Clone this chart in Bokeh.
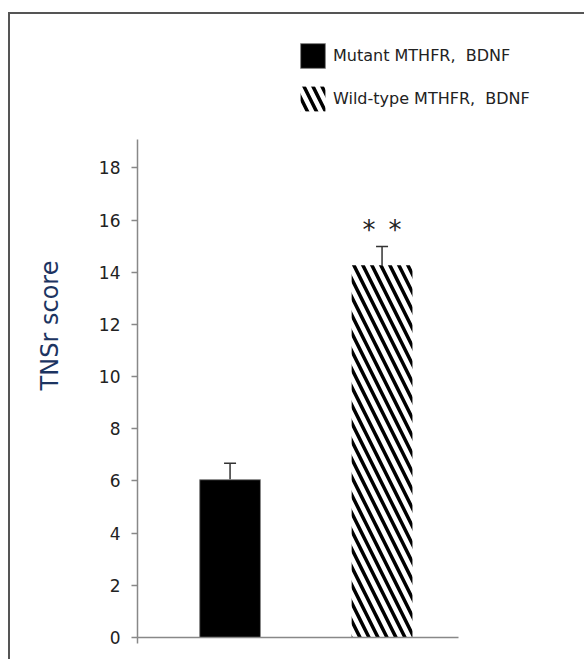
from bokeh.plotting import figure
from bokeh.models import (ColumnDataSource, Range1d, Whisker, TeeHead, Legend, LegendItem,
                          FixedTicker)
from bokeh.core.properties import value
from bokeh.embed import file_html
from bokeh.resources import INLINE

# ---- data ----
groups = ["Mutant MTHFR,  BDNF", "Wild-type MTHFR,  BDNF"]
means = [6.05, 14.27]
errors = [0.63, 0.72]
sig_index = [1]
sig_labels = ["*\u2002*"]
sig_y = [15.64]
y_ticks = [0, 2, 4, 6, 8, 10, 12, 14, 16, 18]
y_axis_max = 19.1
y_view_max = 23.92
ylabel = "TNSr score"

idx = list(range(len(groups)))
x_start, x_axis_end, x_view_end = -0.609, 1.503, 2.332

src = ColumnDataSource(dict(
    x=idx, top=means,
    upper=[m + e for m, e in zip(means, errors)],
    lower=[m - e for m, e in zip(means, errors)],
))

p = figure(width=584, height=659, output_backend="svg", toolbar_location=None,
           x_range=Range1d(x_start, x_view_end), y_range=Range1d(0, y_view_max),
           min_border_left=137, min_border_right=0, min_border_top=13,
           min_border_bottom=22)
# picture frame: thin grey rule along the top and left edges
p.styles = {"box-shadow": "inset 8px 12px 0px 0px #ffffff, inset 10px 14px 0px 0px #555555"}
p.outline_line_color = None
p.xgrid.visible = False
p.ygrid.visible = False
p.background_fill_alpha = 0
p.border_fill_alpha = 0

# bars
r_mut = p.vbar(x=[idx[0]], top=[means[0]], width=0.40, fill_color="black",
               line_color="#888888", line_width=1)
r_wt = p.vbar(x=[idx[1]], top=[means[1]], width=0.40, fill_color="white",
              line_color=None, hatch_pattern="\\", hatch_color="black",
              hatch_scale=18, hatch_weight=3.5)

# error bars
wh = Whisker(source=src, base="x", upper="upper", lower="lower",
             line_color="#333333", line_width=1.5,
             upper_head=TeeHead(size=12, line_color="#333333", line_width=1.5),
             lower_head=TeeHead(size=12, line_color="#333333", line_width=1.5))
p.add_layout(wh)

# significance marks
p.text(x=sig_index, y=sig_y, text=sig_labels, text_align="center",
       text_baseline="alphabetic", text_font=value("DejaVu Sans"),
       text_font_size="26px", text_color="#222222")

# y axis
yax = p.yaxis[0]
yax.bounds = (0, y_axis_max)
yax.ticker = FixedTicker(ticks=y_ticks)
yax.axis_line_color = "#888888"
yax.axis_line_width = 1.5
yax.major_tick_line_color = "#888888"
yax.major_tick_line_width = 1.5
yax.major_tick_out = 6
yax.major_tick_in = 0
yax.minor_tick_line_color = None
yax.major_label_text_font = "DejaVu Sans"
yax.major_label_text_font_size = "17px"
yax.major_label_text_color = "#222222"
yax.major_label_standoff = 11
yax.axis_label = ylabel
yax.axis_label_text_font = "DejaVu Sans"
yax.axis_label_text_font_size = "24px"
yax.axis_label_text_font_style = "normal"
yax.axis_label_text_color = "#1C3461"
yax.axis_label_standoff = 32

# x axis (no category labels in the reference)
xax = p.xaxis[0]
xax.bounds = (x_start, x_axis_end)
xax.ticker = FixedTicker(ticks=[x_start])
xax.major_label_overrides = {x_start: ""}
xax.axis_line_color = "#888888"
xax.axis_line_width = 1.5
xax.major_tick_line_color = "#888888"
xax.major_tick_line_width = 1.5
xax.major_tick_out = 6
xax.major_tick_in = 0
xax.minor_tick_line_color = None
xax.major_label_text_font_size = "6px"
xax.major_label_standoff = 0

# legend
legend = Legend(items=[LegendItem(label=groups[0], renderers=[r_mut]),
                       LegendItem(label=groups[1], renderers=[r_wt])],
                location=(160, 523), orientation="vertical",
                glyph_width=31, glyph_height=31, label_height=31,
                spacing=12, padding=0, margin=0, label_standoff=5,
                border_line_color=None, background_fill_alpha=0,
                label_text_font="DejaVu Sans", label_text_font_size="16px",
                label_text_color="#222222", label_text_baseline="middle")
p.add_layout(legend, "center")

open("out.html", "w").write(file_html(p, INLINE))
